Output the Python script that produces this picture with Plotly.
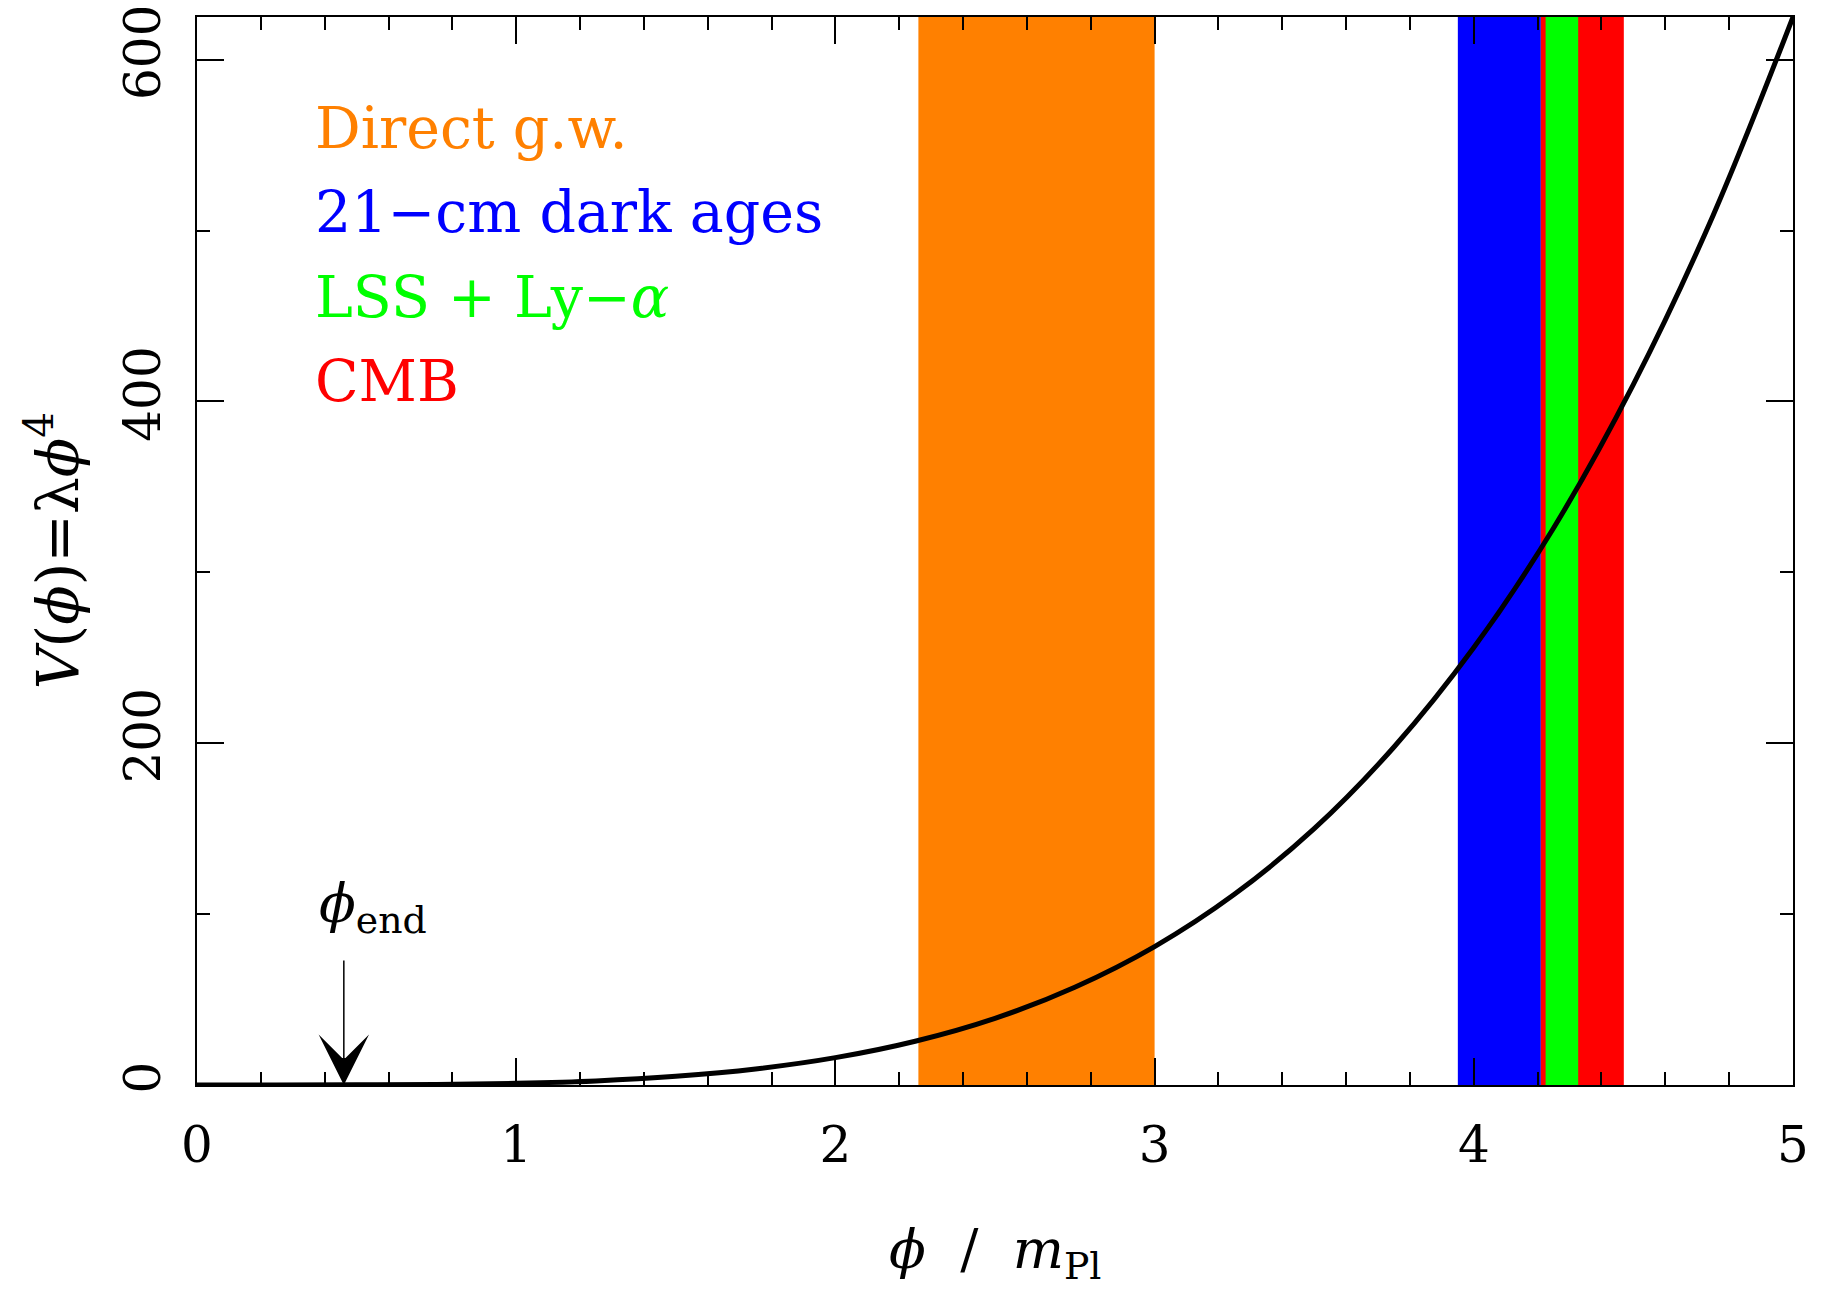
import plotly.graph_objects as go

# Curve V(phi)
phi = [0, 0.25, 0.5, 0.75, 1.0, 1.25, 1.5, 1.75, 2.0, 2.25, 2.5, 2.75, 3.0,
       3.25, 3.5, 3.75, 4.0, 4.25, 4.5, 4.75, 5.0]
V = [0, 0.0, 0.1, 0.3, 1.0, 2.4, 5.1, 9.4, 16, 25.6, 39, 57.2, 81,
     111.6, 150, 197.8, 256, 326, 410, 509, 625]

# Observational bands (drawn in this order)
band_names = ["Direct g.w.", "21-cm dark ages", "CMB", "LSS + Ly-α"]
band_lo = [2.26, 3.95, 4.21, 4.225]
band_hi = [3.0, 4.21, 4.47, 4.327]
band_colors = ["#FF8000", "#0000FF", "#FF0000", "#00FF00"]

# Legend text rows
label_texts = ["Direct g.w.", "21−cm dark ages", "LSS + Ly−<i>α</i>", "CMB"]
label_colors = ["#FF8000", "#0000FF", "#00FF00", "#FF0000"]
label_y = [560, 511, 461, 412]

phi_end = 0.46

x_ticks = [0, 1, 2, 3, 4, 5]
y_ticks = [0, 200, 400, 600]

FONT = "DejaVu Serif"

fig = go.Figure()

for lo, hi, c in zip(band_lo, band_hi, band_colors):
    fig.add_vrect(x0=lo, x1=hi, fillcolor=c, opacity=1, line_width=0, layer="below")

fig.add_trace(go.Scatter(x=phi, y=V, mode="lines", line=dict(color="black", width=5, shape="spline"),
                         showlegend=False, hoverinfo="skip"))

for t, c, yy in zip(label_texts, label_colors, label_y):
    fig.add_annotation(x=0.363, y=yy, xref="x", yref="y", text=t, showarrow=False,
                       xanchor="left", yanchor="middle", font=dict(family=FONT, size=57, color=c))

# phi_end arrow
fig.add_annotation(x=phi_end, y=0, xref="x", yref="y", ax=0, ay=-126, axref="pixel", ayref="pixel",
                   text="", showarrow=True, arrowhead=3, arrowsize=5.6, arrowwidth=1.5,
                   arrowcolor="black")
fig.add_annotation(x=phi_end + 0.09, y=104, xref="x", yref="y",
                   text="<i>ϕ</i><sub>end</sub>", showarrow=False,
                   xanchor="center", yanchor="middle", font=dict(family=FONT, size=54, color="black"))

# axis titles
fig.add_annotation(x=0.5, y=-0.157, xref="paper", yref="paper",
                   text="<i>ϕ</i>  /  <i>m</i><sub>Pl</sub>", showarrow=False,
                   xanchor="center", yanchor="middle", font=dict(family=FONT, size=54, color="black"))
fig.add_annotation(x=-0.09, y=0.5, xref="paper", yref="paper", textangle=-90,
                   text="<i>V</i>(<i>ϕ</i>)=λ<i>ϕ</i><sup>4</sup>", showarrow=False,
                   xanchor="center", yanchor="middle", font=dict(family=FONT, size=58, color="black"))

axis_common = dict(showline=True, linecolor="black", linewidth=2, mirror="allticks",
                   ticks="inside", ticklen=27, tickwidth=2, tickcolor="black",
                   showgrid=False, zeroline=False, automargin=False, ticklabeloverflow="allow",
                   tickfont=dict(family=FONT, size=50, color="black"))

fig.update_xaxes(range=[0, 5], tickvals=x_ticks, ticktext=[str(v) for v in x_ticks],
                 minor=dict(dtick=0.2, tick0=0, ticks="inside", ticklen=13, tickwidth=2, tickcolor="black"),
                 ticklabelstandoff=15, **axis_common)
fig.update_yaxes(range=[0, 625], tickvals=y_ticks, ticktext=[str(v) for v in y_ticks], tickangle=-90,
                 minor=dict(dtick=100, tick0=0, ticks="inside", ticklen=13, tickwidth=2, tickcolor="black"),
                 ticklabelstandoff=15, **axis_common)

fig.update_layout(width=1821, height=1293, paper_bgcolor="white", plot_bgcolor="white",
                  margin=dict(l=189, r=36, t=9, b=216), showlegend=False)

fig.write_html("out.html")
